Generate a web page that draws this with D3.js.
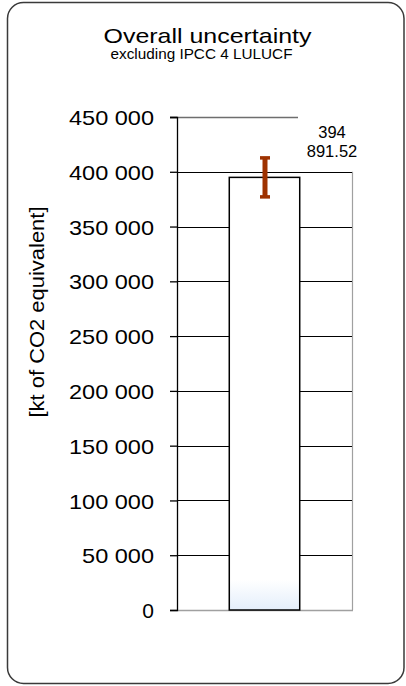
<!DOCTYPE html>
<html>
<head>
<meta charset="utf-8">
<script src="https://cdn.jsdelivr.net/npm/d3@7"></script>
<style>
  html, body { margin: 0; padding: 0; background: #fff; }
  svg { display: block; font-family: Arial, "Liberation Sans", sans-serif; }
</style>
</head>
<body>
<svg id="chart" width="406" height="686"></svg>
<script>
// Chart data
const categories = ["Total"];
const totals = [394891.52];
const uncertainty = [17800];
const yTicks = [0, 50000, 100000, 150000, 200000, 250000, 300000, 350000, 400000, 450000];
const titleText = "Overall uncertainty";
const subtitleText = "excluding IPCC 4 LULUCF";
const yAxisTitle = "[kt of CO2 equivalent]";

const svg = d3.select("#chart");

// Outer rounded frame
svg.append("rect")
  .attr("x", 7.5).attr("y", 2.5)
  .attr("width", 396.5).attr("height", 681)
  .attr("rx", 16).attr("ry", 16)
  .attr("fill", "#fff")
  .attr("stroke", "#3a3a3a")
  .attr("stroke-width", 1.5);

const plot = { left: 177, right: 352, top: 117, bottom: 610 };

const y = d3.scaleLinear().domain([0, 450000]).range([plot.bottom, plot.top]);
const x = d3.scaleBand().domain(categories).range([plot.left, plot.right])
  .paddingInner(0.426).paddingOuter(0.426);

const fmt = v => d3.format(",")(v).replace(/,/g, " ");

// Gradient at the foot of the bar
const defs = svg.append("defs");
const grad = defs.append("linearGradient").attr("id", "barFoot")
  .attr("x1", 0).attr("y1", 0).attr("x2", 0).attr("y2", 1);
grad.append("stop").attr("offset", "0.93").attr("stop-color", "#ffffff");
grad.append("stop").attr("offset", "1").attr("stop-color", "#e4eefb");

// Plot frame: right and bottom edges in grey
svg.append("line")
  .attr("x1", plot.right + 0.5).attr("x2", plot.right + 0.5)
  .attr("y1", y(400000)).attr("y2", y(0))
  .attr("stroke", "#a0a0a0").attr("stroke-width", 1.2);
svg.append("line")
  .attr("x1", plot.left).attr("x2", plot.right + 1)
  .attr("y1", y(0) + 0.5).attr("y2", y(0) + 0.5)
  .attr("stroke", "#a0a0a0").attr("stroke-width", 1.5);

// Gridlines
svg.append("g").selectAll("line")
  .data(yTicks.filter(d => d > 0 && d < 450000))
  .join("line")
  .attr("x1", plot.left).attr("x2", plot.right)
  .attr("y1", d => Math.round(y(d)) + 0.5).attr("y2", d => Math.round(y(d)) + 0.5)
  .attr("stroke", "#000").attr("stroke-width", 1.2);
svg.append("line")
  .attr("x1", plot.left - 7).attr("x2", 298)
  .attr("y1", Math.round(y(450000)) + 0.5).attr("y2", Math.round(y(450000)) + 0.5)
  .attr("stroke", "#6e6e6e").attr("stroke-width", 1.3);

// Bars
svg.append("g").selectAll("rect")
  .data(categories.map((c, i) => ({ c, v: totals[i] })))
  .join("rect")
  .attr("x", d => x(d.c))
  .attr("width", x.bandwidth())
  .attr("y", d => y(d.v))
  .attr("height", d => y(0) - y(d.v))
  .attr("fill", "url(#barFoot)")
  .attr("stroke", "#000")
  .attr("stroke-width", 1.5);

// Y axis
const yAxis = svg.append("g")
  .attr("transform", `translate(${plot.left},0)`)
  .call(d3.axisLeft(y).tickValues(yTicks).tickFormat(fmt).tickSize(7).tickPadding(16));
yAxis.select(".domain").attr("stroke", "#000").attr("stroke-width", 1.3);
yAxis.selectAll(".tick line").attr("stroke", "#000").attr("stroke-width", 1.3);
yAxis.selectAll(".tick text")
  .attr("font-size", 21)
  .attr("fill", "#000")
  .attr("font-family", "Arial, 'Liberation Sans', sans-serif")
  .attr("dy", "0.36em")
  .each(function () {
    const t = d3.select(this);
    const w = this.getComputedTextLength();
    if (t.text().length > 1) t.attr("textLength", w * 1.12).attr("lengthAdjust", "spacingAndGlyphs");
  });

// Error bars
const eb = svg.append("g").selectAll("g")
  .data(categories.map((c, i) => ({ c, v: totals[i], e: uncertainty[i] })))
  .join("g")
  .attr("stroke", "#9e3200");
eb.append("line")
  .attr("x1", d => x(d.c) + x.bandwidth() / 2 + 0.5)
  .attr("x2", d => x(d.c) + x.bandwidth() / 2 + 0.5)
  .attr("y1", d => y(d.v + d.e)).attr("y2", d => y(d.v - d.e))
  .attr("stroke-width", 5);
eb.selectAll("line.cap")
  .data(d => [d.v + d.e, d.v - d.e].map(v => ({ c: d.c, v })))
  .join("line").attr("class", "cap")
  .attr("x1", d => x(d.c) + x.bandwidth() / 2 - 4.5)
  .attr("x2", d => x(d.c) + x.bandwidth() / 2 + 5.5)
  .attr("y1", d => y(d.v)).attr("y2", d => y(d.v))
  .attr("stroke-width", 3.5);

// Value label (wrapped over two lines)
const lbl = svg.append("text")
  .attr("x", 332)
  .attr("text-anchor", "middle")
  .attr("font-size", 16.5)
  .attr("fill", "#000");
const parts = d3.format(",.2f")(totals[0]).split(",");
const lines = [parts[0], parts.slice(1).join("")];
lbl.selectAll("tspan").data(lines).join("tspan")
  .attr("x", 332)
  .attr("y", (d, i) => 138 + i * 19)
  .text(d => d);

// Titles
svg.append("text")
  .attr("x", 207.5).attr("y", 43)
  .attr("text-anchor", "middle")
  .attr("font-size", 21)
  .attr("textLength", 208).attr("lengthAdjust", "spacingAndGlyphs")
  .text(titleText);
svg.append("text")
  .attr("x", 201.5).attr("y", 58.5)
  .attr("text-anchor", "middle")
  .attr("font-size", 14)
  .attr("textLength", 182).attr("lengthAdjust", "spacingAndGlyphs")
  .text(subtitleText);

// Y axis title
svg.append("text")
  .attr("transform", "translate(44,312) rotate(-90)")
  .attr("text-anchor", "middle")
  .attr("font-size", 20)
  .attr("textLength", 211).attr("lengthAdjust", "spacingAndGlyphs")
  .text(yAxisTitle);
</script>
</body>
</html>
